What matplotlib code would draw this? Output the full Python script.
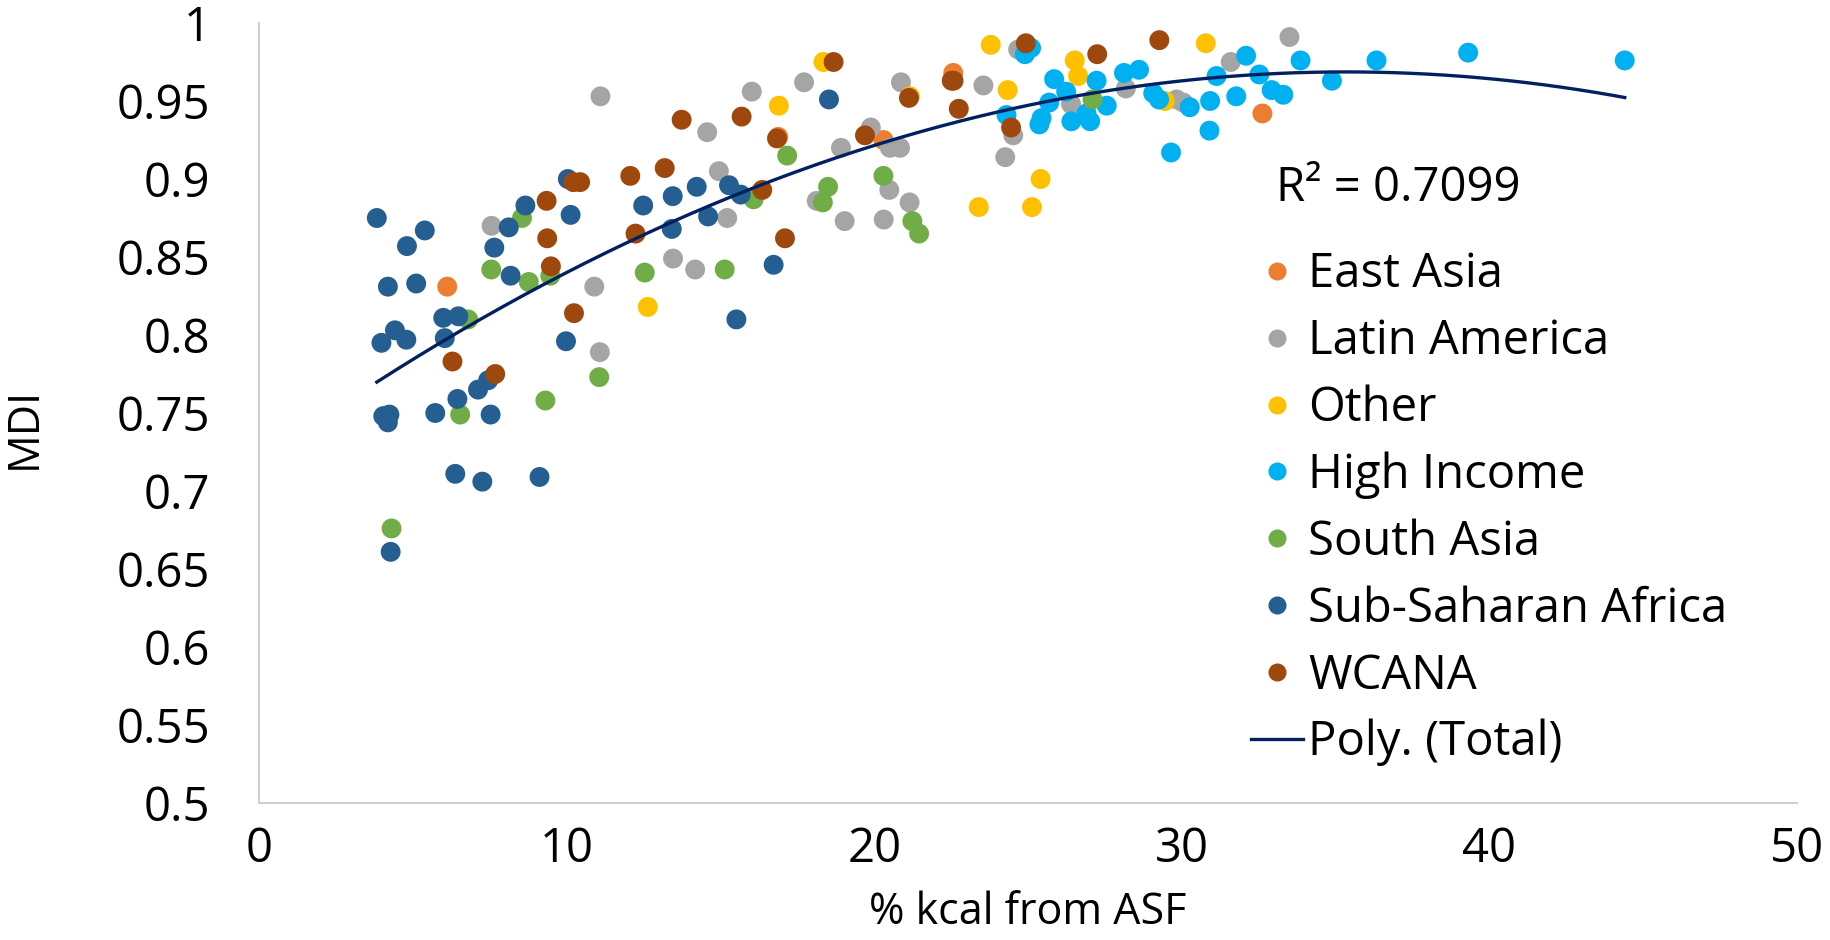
import numpy as np
import matplotlib
matplotlib.use("Agg")
import matplotlib.pyplot as plt
from matplotlib.lines import Line2D

plt.rcParams["font.family"] = ["Open Sans", "DejaVu Sans"]

# --- данные ---
east_asia_x = [6.12, 16.88, 20.3, 22.57, 32.62]
east_asia_y = [0.831, 0.927, 0.925, 0.968, 0.942]

latin_x = [7.56, 10.9, 11.08, 11.1, 13.46, 14.18, 14.57, 14.95, 15.22, 16.02, 17.72,
           18.13, 18.92, 19.04, 19.89, 20.31, 20.49, 20.51, 20.84, 20.87, 21.15, 23.55,
           24.26, 24.52, 24.68, 26.4, 28.18, 29.83, 30.05, 31.59, 33.5]
latin_y = [0.870, 0.831, 0.789, 0.953, 0.849, 0.842, 0.930, 0.905, 0.875, 0.956, 0.962,
           0.886, 0.920, 0.873, 0.933, 0.874, 0.893, 0.920, 0.920, 0.962, 0.885, 0.960,
           0.914, 0.928, 0.983, 0.948, 0.958, 0.951, 0.949, 0.975, 0.991]

other_x = [12.64, 16.9, 18.35, 21.16, 23.4, 23.79, 24.34, 25.13, 25.41, 26.52, 26.63,
           29.45, 30.78]
other_y = [0.818, 0.947, 0.975, 0.953, 0.882, 0.986, 0.957, 0.882, 0.900, 0.976, 0.966,
           0.950, 0.987]

high_x = [24.3, 24.9, 25.1, 25.85, 26.24, 25.69, 25.44, 25.37, 26.41, 27.02, 27.23,
          27.56, 26.9, 28.12, 28.61, 29.07, 29.26, 30.26, 30.92, 30.9, 29.65, 31.13,
          32.09, 32.52, 31.77, 32.92, 33.3, 33.86, 34.88, 36.33, 39.31, 44.4]
high_y = [0.941, 0.980, 0.984, 0.964, 0.956, 0.949, 0.939, 0.935, 0.937, 0.937, 0.963,
          0.947, 0.942, 0.968, 0.970, 0.955, 0.951, 0.946, 0.950, 0.931, 0.917, 0.966,
          0.979, 0.967, 0.953, 0.957, 0.954, 0.976, 0.963, 0.976, 0.981, 0.976]

south_x = [4.31, 6.54, 6.8, 7.55, 8.55, 8.77, 9.31, 9.47, 11.06, 12.54, 15.14, 16.08,
           17.17, 18.33, 18.5, 20.3, 21.24, 21.46, 27.1]
south_y = [0.676, 0.749, 0.810, 0.842, 0.875, 0.834, 0.758, 0.838, 0.773, 0.840, 0.842,
           0.887, 0.915, 0.885, 0.895, 0.902, 0.873, 0.865, 0.951]

ssa_x = [3.83, 5.39, 4.81, 4.19, 5.11, 4.42, 4.79, 3.98, 5.99, 6.48, 6.04, 7.65, 8.12,
         8.66, 10.13, 10.04, 8.18, 12.49, 13.45, 14.23, 13.42, 9.98, 7.45, 7.12, 6.45,
         5.73, 7.53, 4.04, 4.24, 4.19, 6.38, 7.26, 9.12, 4.28, 15.28, 15.66, 14.6,
         16.73, 15.52, 18.53]
ssa_y = [0.875, 0.867, 0.857, 0.831, 0.833, 0.803, 0.797, 0.795, 0.811, 0.812, 0.798,
         0.856, 0.869, 0.883, 0.877, 0.900, 0.838, 0.883, 0.889, 0.895, 0.868, 0.796,
         0.771, 0.765, 0.759, 0.750, 0.749, 0.748, 0.749, 0.744, 0.711, 0.706, 0.709,
         0.661, 0.896, 0.890, 0.876, 0.845, 0.810, 0.951]

wcana_x = [6.29, 7.68, 9.35, 9.37, 9.49, 10.22, 10.44, 10.24, 12.07, 12.24, 13.19, 13.74,
           15.69, 16.36, 16.84, 17.1, 18.68, 19.7, 21.13, 22.52, 22.58, 22.75, 24.45,
           24.93, 27.25, 29.27]
wcana_y = [0.783, 0.775, 0.886, 0.862, 0.844, 0.898, 0.898, 0.814, 0.902, 0.865, 0.907,
           0.938, 0.940, 0.893, 0.926, 0.862, 0.975, 0.928, 0.952, 0.963, 0.963, 0.945,
           0.933, 0.987, 0.980, 0.989]

series = [
    ("East Asia", east_asia_x, east_asia_y, "#ED7D31"),
    ("Latin America", latin_x, latin_y, "#A5A5A5"),
    ("Other", other_x, other_y, "#FFC000"),
    ("High Income", high_x, high_y, "#00B0F0"),
    ("South Asia", south_x, south_y, "#70AD47"),
    ("Sub-Saharan Africa", ssa_x, ssa_y, "#255E91"),
    ("WCANA", wcana_x, wcana_y, "#9E480E"),
]
r2_label = "R² = 0.7099"

W, H = 1830, 940
fig = plt.figure(figsize=(W / 100, H / 100), dpi=100)
ax = fig.add_axes([259 / W, 1 - 803 / H, (1797 - 259) / W, (803 - 23) / H])

for name, xs, ys, col in series:
    ax.scatter(xs, ys, s=205, color=col, edgecolors="none", label=name, zorder=2)

# полиномиальный тренд 2-й степени по всем точкам (как в Excel)
all_x = np.concatenate([np.asarray(s[1]) for s in series])
all_y = np.concatenate([np.asarray(s[2]) for s in series])
coef = np.polyfit(all_x, all_y, 2)
xx = np.linspace(all_x.min(), all_x.max(), 300)
ax.plot(xx, np.polyval(coef, xx), color="#002060", lw=2.4, zorder=3)

yt = np.round(np.arange(0.5, 1.0001, 0.05), 2)
ax.set_xlim(0, 50)
ax.set_ylim(0.5, 1.0)
ax.set_xticks(np.arange(0, 51, 10))
ax.set_yticks(yt)
ax.set_yticklabels([f"{v:g}" for v in yt])
ax.tick_params(length=0, labelsize=34)
ax.tick_params(axis="y", pad=35)
ax.tick_params(axis="x", pad=16)
for side in ["top", "right"]:
    ax.spines[side].set_visible(False)
for side in ["left", "bottom"]:
    ax.spines[side].set_color("#D0D0D0")
    ax.spines[side].set_linewidth(1.5)

# подписи осей
fig.text(1028 / W, 1 - 924 / H, "% kcal from ASF", fontsize=31, ha="center", va="baseline")
fig.text(36 / W, 1 - 428 / H, "MDI", fontsize=31, rotation=90, rotation_mode="anchor",
         ha="center", va="baseline")

fig.text(1276 / W, 1 - 188 / H, r2_label, fontsize=34, va="center", ha="left")

handles = [Line2D([], [], ls="none", marker="o", ms=13, color=c, mec="none") for _, _, _, c in series]
handles.append(Line2D([], [], color="#002060", lw=2.4))
labels = [s[0] for s in series] + ["Poly. (Total)"]
fig.legend(handles, labels, loc="upper left", bbox_to_anchor=(1232 / W, 1 - 232 / H),
           frameon=False, fontsize=34, labelspacing=0.41, handlelength=1.1,
           handletextpad=0.12, borderaxespad=0)

fig.savefig("out.png", dpi=100)
plt.close(fig)
